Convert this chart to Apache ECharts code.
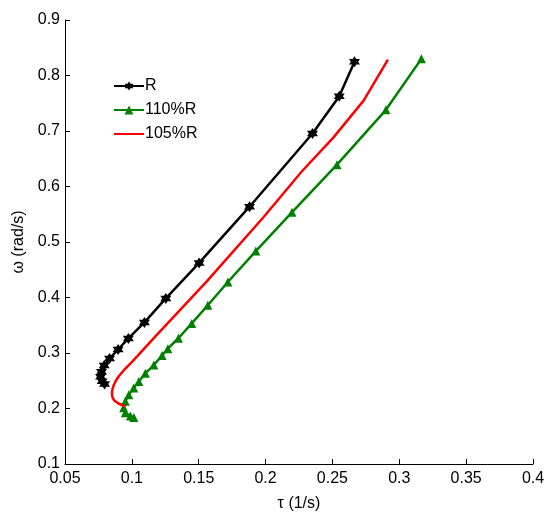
<!DOCTYPE html>
<html>
<head>
<meta charset="utf-8">
<script src="https://cdn.jsdelivr.net/npm/echarts@6/dist/echarts.min.js"></script>
<style>
html,body{margin:0;padding:0;background:#fff;}
#chart{width:552px;height:517px;}
</style>
</head>
<body>
<div id="chart"></div>
<script>
// Series R (black, hexagram markers)
const rTau   = [0.2665, 0.2551, 0.2351, 0.1880, 0.1503, 0.1254, 0.1094, 0.0974, 0.0897, 0.0833, 0.0793, 0.0773, 0.0766, 0.0778, 0.0796];
const rOmega = [0.8247, 0.7625, 0.6956, 0.5636, 0.4623, 0.3984, 0.3551, 0.3262, 0.3063, 0.2900, 0.2775, 0.2660, 0.2570, 0.2490, 0.2440];

// Series 110%R (green, triangle markers)
const g110Tau   = [0.3165, 0.2900, 0.2534, 0.2197, 0.1927, 0.1718, 0.1568, 0.1448, 0.1348, 0.1269, 0.1226, 0.1164, 0.1101, 0.1052, 0.1014, 0.0977, 0.0951, 0.0939, 0.0951, 0.0989, 0.1015];
const g110Omega = [0.8300, 0.7382, 0.6393, 0.5535, 0.4837, 0.4279, 0.3860, 0.3533, 0.3266, 0.3078, 0.2954, 0.2782, 0.2634, 0.2485, 0.2368, 0.2249, 0.2130, 0.2012, 0.1924, 0.1863, 0.1840];

// Series 105%R (red, no markers)
const r105Tau   = [0.2915, 0.2733, 0.2508, 0.2272, 0.1984, 0.1560, 0.1176, 0.1001, 0.0940, 0.0905, 0.0880, 0.0864, 0.0855, 0.0851, 0.0852, 0.0857, 0.0866, 0.0880, 0.0900, 0.0925, 0.0951];
const r105Omega = [0.8288, 0.7547, 0.6885, 0.6275, 0.5446, 0.4291, 0.3300, 0.2840, 0.2690, 0.2590, 0.2500, 0.2420, 0.2350, 0.2290, 0.2235, 0.2190, 0.2150, 0.2118, 0.2090, 0.2063, 0.2041];

const seriesNames = ['R', '110%R', '105%R'];

// Axis settings
const xMin = 0.05, xMax = 0.4, xStep = 0.05;
const yMin = 0.1, yMax = 0.9, yStep = 0.1;
const xTitle = 'τ (1/s)';
const yTitle = 'ω (rad/s)';

const zip = (a, b) => a.map((v, i) => [v, b[i]]);

const hexagram = 'path://M0,-10 L2.89,-5 L8.66,-5 L5.77,0 L8.66,5 L2.89,5 L0,10 L-2.89,5 L-8.66,5 L-5.77,0 L-8.66,-5 L-2.89,-5 Z';

const fontFam = '"Liberation Sans", Arial, Helvetica, sans-serif';
const fmt = v => String(+v.toFixed(2));

const chart = echarts.init(document.getElementById('chart'), null, {renderer: 'canvas'});
chart.setOption({
  animation: false,
  backgroundColor: '#ffffff',
  textStyle: {fontFamily: fontFam},
  grid: {left: 65, right: 19, top: 20, bottom: 47, containLabel: false},
  legend: {
    orient: 'vertical',
    left: 108,
    top: 73,
    itemWidth: 30,
    itemHeight: 11,
    itemGap: 8,
    data: [
      {name: seriesNames[0]},
      {name: seriesNames[1]},
      {name: seriesNames[2], itemStyle: {opacity: 0}}
    ],
    textStyle: {fontSize: 16, color: '#000', fontFamily: fontFam, padding: [0, 0, 0, -4]}
  },
  xAxis: {
    type: 'value', min: xMin, max: xMax, interval: xStep,
    name: xTitle, nameLocation: 'middle', nameGap: 32,
    nameTextStyle: {fontSize: 16, color: '#000', fontFamily: fontFam},
    axisLine: {show: true, onZero: false, lineStyle: {color: '#000', width: 1}},
    axisTick: {show: true, inside: true, length: 5, lineStyle: {color: '#000'}},
    axisLabel: {fontSize: 16, color: '#000', margin: 7, formatter: fmt},
    splitLine: {show: false}
  },
  yAxis: {
    type: 'value', min: yMin, max: yMax, interval: yStep,
    name: yTitle, nameLocation: 'middle', nameGap: 33,
    nameTextStyle: {fontSize: 16, color: '#000', fontFamily: fontFam},
    axisLine: {show: true, onZero: false, lineStyle: {color: '#000', width: 1}},
    axisTick: {show: true, inside: true, length: 5, lineStyle: {color: '#000'}},
    axisLabel: {fontSize: 16, color: '#000', margin: 5, formatter: fmt},
    splitLine: {show: false}
  },
  series: [
    {
      name: seriesNames[0], type: 'line', data: zip(rTau, rOmega),
      symbol: hexagram, symbolSize: 11, showAllSymbol: true,
      lineStyle: {color: '#000', width: 2.5},
      itemStyle: {color: '#000'}, z: 3
    },
    {
      name: seriesNames[1], type: 'line', data: zip(g110Tau, g110Omega),
      symbol: 'triangle', symbolSize: 9, showAllSymbol: true,
      lineStyle: {color: '#008000', width: 2.5},
      itemStyle: {color: '#008000'}, z: 2
    },
    {
      name: seriesNames[2], type: 'line', data: zip(r105Tau, r105Omega),
      symbol: 'none',
      lineStyle: {color: '#ff0000', width: 2.5},
      itemStyle: {color: '#ff0000'}, z: 4
    }
  ]
});
</script>
</body>
</html>
